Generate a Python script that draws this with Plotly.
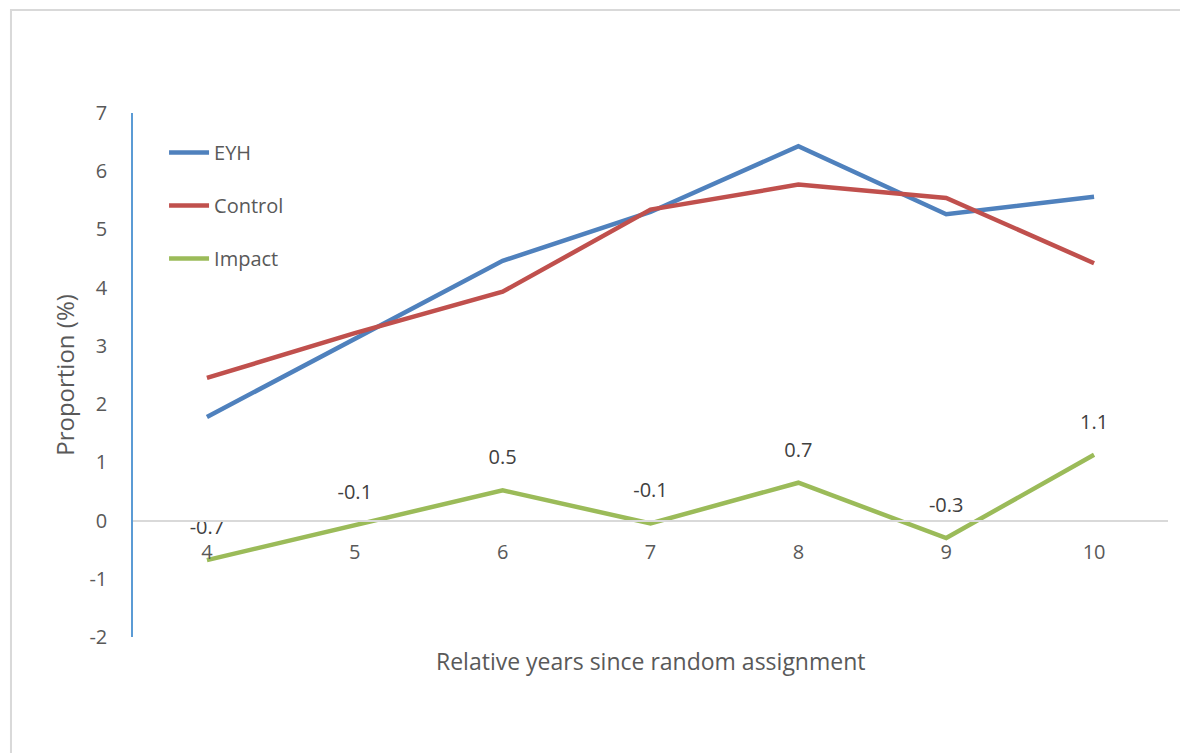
import plotly.graph_objects as go

years = [4, 5, 6, 7, 8, 9, 10]
eyh = [1.78, 3.12, 4.46, 5.30, 6.43, 5.26, 5.56]
control = [2.45, 3.22, 3.93, 5.34, 5.77, 5.54, 4.42]
impact = [-0.68, -0.08, 0.52, -0.05, 0.65, -0.30, 1.13]
impact_labels = ["-0.7", "-0.1", "0.5", "-0.1", "0.7", "-0.3", "1.1"]
y_ticks = [-2, -1, 0, 1, 2, 3, 4, 5, 6, 7]
y_tick_labels = ["-2", "-1", "0", "1", "2", "3", "4", "5", "6", "7"]

FONT = "Open Sans"
GRAY = "#595959"

fig = go.Figure()
fig.add_trace(go.Scatter(x=years, y=eyh, name="EYH", mode="lines",
                         line=dict(color="#4F81BD", width=4.5),
                         legendgroup="a"))
fig.add_trace(go.Scatter(x=years, y=control, name="Control", mode="lines",
                         line=dict(color="#C0504D", width=4.5),
                         legendgroup="b"))
fig.add_trace(go.Scatter(x=years, y=impact, name="Impact", mode="lines+markers+text",
                         line=dict(color="#9BBB59", width=4.5),
                         marker=dict(size=32, color="rgba(0,0,0,0)"),
                         text=impact_labels, textposition="top center",
                         textfont=dict(size=20, color="#404040", family=FONT),
                         legendgroup="c"))

fig.update_layout(
    width=1180, height=753,
    margin=dict(l=133, r=12, t=113, b=116),
    paper_bgcolor="white", plot_bgcolor="white",
    font=dict(family=FONT, color=GRAY, size=20),
    showlegend=True,
    legend=dict(x=0.03, y=0.962, xanchor="left", yanchor="top",
                bgcolor="rgba(0,0,0,0)", tracegroupgap=24, itemwidth=40,
                font=dict(size=20, color=GRAY, family=FONT)),
    xaxis=dict(range=[3.5, 10.5], tickmode="array", tickvals=years,
               ticktext=[str(y) for y in years],
               showgrid=False, zeroline=False, showline=True,
               linecolor="#D9D9D9", linewidth=1.5,
               anchor="free", position=(0 - (-2)) / 9,
               ticks="", ticklabelstandoff=14,
               tickfont=dict(size=20, color=GRAY, family=FONT)),
    yaxis=dict(range=[-2, 7], tickmode="array", tickvals=y_ticks,
               ticktext=y_tick_labels, showgrid=False, zeroline=False,
               showline=True, linecolor="#5B9BD5", linewidth=1.5,
               ticks="", ticklabelstandoff=20,
               tickfont=dict(size=20, color=GRAY, family=FONT),
               title=dict(text="Proportion (%)", standoff=8,
                          font=dict(size=24, color=GRAY, family=FONT))),
    annotations=[dict(text="Relative years since random assignment",
                      xref="paper", yref="paper", x=0.5, y=-0.046,
                      xanchor="center", yanchor="middle", showarrow=False,
                      font=dict(size=23, color=GRAY, family=FONT))],
    shapes=[dict(type="rect", xref="paper", yref="paper",
                 x0=-0.1179, x1=1.1, y0=-0.3, y1=1.1966,
                 line=dict(color="#D9D9D9", width=2), fillcolor="rgba(0,0,0,0)",
                 layer="below")],
)

fig.write_html("out.html")
